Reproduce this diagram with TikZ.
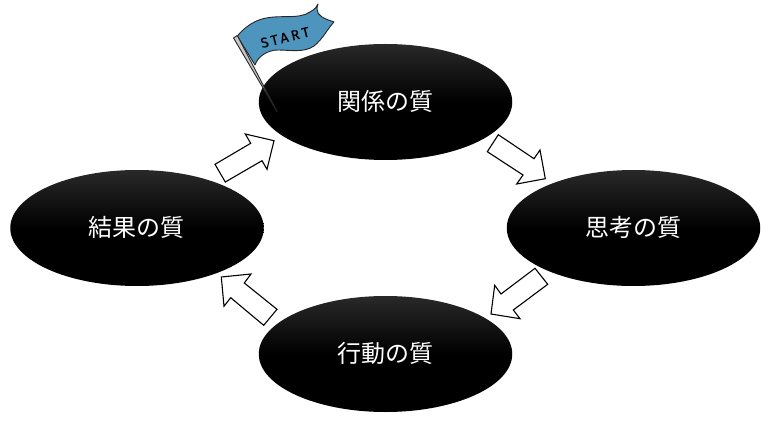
\documentclass[tikz,border=0pt]{standalone}
\usepackage{fontspec}
\setmainfont{Liberation Sans}
\newfontfamily\cjk{Noto Sans CJK JP}
\newfontfamily\flagfont[LetterSpace=22,FakeBold=0.6]{Fira Sans}
\definecolor{flagblue}{HTML}{4E95BE}
\tikzset{
  quality/.style={ellipse,minimum width=253.5pt,minimum height=116pt,inner sep=0pt,
    top color=black!84!white,bottom color=black,middle color=black,text=white,
    font=\cjk\fontsize{24}{24}\selectfont},
  blockarrow/.style={draw=black,fill=white,line width=1.1pt,line join=miter},
  pole/.style={draw=black!85,fill=black!22,line width=.9pt,line join=round},
  flagcloth/.style={draw=black!85,fill=flagblue,line width=.9pt,line join=round}
}
\usetikzlibrary{shapes.geometric}
\begin{document}
\begin{tikzpicture}[x=1pt,y=-1pt]
\useasboundingbox (0,0) rectangle (776,422);
\node[quality] (rel) at (385.5,102) {\raisebox{2.5pt}{関係の質}};
\node[quality] (res) at (137,228) {\raisebox{2.5pt}{\kern-1pt 結果の質}};
\node[quality] (thk) at (633.5,228) {\raisebox{2.5pt}{思考の質}};
\node[quality] (act) at (385.5,354) {\raisebox{2.5pt}{行動の質}};
% block arrows
\draw[blockarrow] (215,164.3)--(250.7,143.3)--(245.3,134)--(274,140.7)--(267,169.3)--(262,160.7)--(225.3,182)--cycle;
\draw[blockarrow] (498.3,134.7)--(534,158.7)--(540,150)--(545.3,178.7)--(516.7,184)--(523,175)--(487.3,151.7)--cycle;
\draw[blockarrow] (535,268.3)--(547.7,284.3)--(513.3,310)--(520,318.7)--(491,314)--(494.7,285.3)--(501,294)--cycle;
\draw[blockarrow] (277,309.3)--(263.7,325.3)--(230.7,297.7)--(224,306.3)--(221.3,277)--(251,274)--(244.3,283)--cycle;
% flag
\draw[flagcloth] (237.3,36)
  .. controls (244,28) and (252,22) .. (262,19)
  .. controls (280,14) and (298,20) .. (310,12)
  .. controls (315,9) and (317,7) .. (318,4)
  .. controls (315,12) and (319,16) .. (326,19)
  .. controls (330,21) and (333,21) .. (334,22)
  .. controls (328,28) and (323,39) .. (314,46)
  .. controls (304,53) and (290,50) .. (278,50)
  .. controls (268,50) and (258,56) .. (255,65)
  -- cycle;
\node[rotate=14,text=black,font=\flagfont\fontsize{14}{14}\selectfont] (start) at (285,37.5) {START};
\draw[pole] (233.5,38) -- (237.3,35.5) -- (277,111.5) -- cycle;
\end{tikzpicture}
\end{document}
